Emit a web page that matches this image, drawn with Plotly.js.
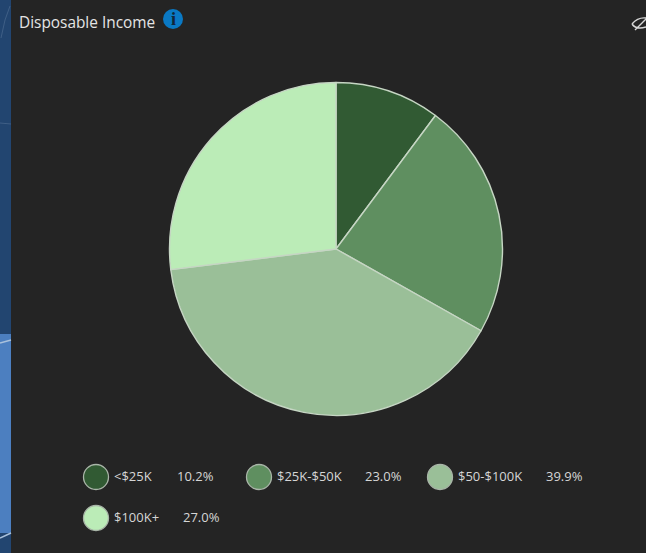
<!DOCTYPE html>
<html>
<head>
<meta charset="utf-8">
<script src="https://cdn.plot.ly/plotly-3.0.1.min.js"></script>
<style>html,body{margin:0;padding:0;background:#242424}#chart{width:646px;height:553px}</style>
</head>
<body>
<div id="chart"></div>
<script>
// Income bands and their share of households
const categories = ['<$25K', '$25K-$50K', '$50-$100K', '$100K+'];
const shares = [10.2, 23.0, 39.9, 27.0];
const sliceColors = ['#315a33', '#5f8f60', '#9abf98', '#bbecb7'];

const W = 646, H = 553;
const px = x => x / W;
const py = y => 1 - y / H;

// Legend layout: swatch centre, label start, percentage start
const legendRows = [
  {cx: 96, cy: 477, lx: 112, vx: 175},
  {cx: 259, cy: 477, lx: 275, vx: 363},
  {cx: 440, cy: 477, lx: 456, vx: 544},
  {cx: 96, cy: 518, lx: 112, vx: 181}
];

const textFont = {family: '"Open Sans", "Noto Sans", sans-serif', size: 13, color: '#d6d6d6'};

const shapes = [
  // map visible behind the panel's left edge
  {type: 'rect', xref: 'paper', yref: 'paper', x0: 0, x1: px(11), y0: 1, y1: 0, fillcolor: '#224570', line: {width: 0}, layer: 'below'},
  {type: 'rect', xref: 'paper', yref: 'paper', x0: 0, x1: px(11), y0: py(334), y1: py(533), fillcolor: '#4c7fc0', line: {width: 0}, layer: 'below'},
  {type: 'path', xref: 'paper', yref: 'paper', path: `M 0 ${py(343)} L ${px(11)} ${py(340)}`, line: {color: '#a9c1dc', width: 1.5}, layer: 'below'},
  {type: 'path', xref: 'paper', yref: 'paper', path: `M 0 ${py(538)} L ${px(11)} ${py(533)}`, line: {color: '#a9c1dc', width: 1.5}, layer: 'below'},
  {type: 'path', xref: 'paper', yref: 'paper', path: `M 0 ${py(123)} L ${px(11)} ${py(124)}`, line: {color: '#3f5f86', width: 1}, layer: 'below'},
  {type: 'path', xref: 'paper', yref: 'paper', path: `M ${px(1)} ${py(38)} L ${px(5)} ${py(20)} L ${px(10)} ${py(6)}`, line: {color: '#3f5f86', width: 1}, layer: 'below'},
  // info badge
  {type: 'circle', xref: 'paper', yref: 'paper', x0: px(163), x1: px(183), y0: py(9), y1: py(29), fillcolor: '#0a79c4', line: {width: 0}},
  // hidden-layer eye, top right
  {type: 'path', xref: 'paper', yref: 'paper',
    path: `M ${px(632)} ${py(24)} Q ${px(638)} ${py(17)} ${px(646)} ${py(18)} M ${px(632)} ${py(24)} Q ${px(636)} ${py(30)} ${px(646)} ${py(27)} M ${px(635)} ${py(30)} L ${px(646)} ${py(19)}`,
    line: {color: '#d8d8d8', width: 1.4}}
];

const annotations = [
  {text: 'Disposable Income', x: px(17), y: py(23), xref: 'paper', yref: 'paper', xanchor: 'left', yanchor: 'middle', showarrow: false,
    font: {family: textFont.family, size: 15.4, color: '#e4e4e4'}},
  {text: '<b>i</b>', x: px(173), y: py(19), xref: 'paper', yref: 'paper', xanchor: 'center', yanchor: 'middle', showarrow: false,
    font: {family: '"Liberation Serif", serif', size: 18, color: '#10263a'}}
];

categories.forEach((name, i) => {
  const r = legendRows[i];
  shapes.push({type: 'circle', xref: 'paper', yref: 'paper',
    x0: px(r.cx - 12.5), x1: px(r.cx + 12.5), y0: py(r.cy - 12.5), y1: py(r.cy + 12.5),
    fillcolor: sliceColors[i], line: {color: '#a9b5a8', width: 1.3}});
  annotations.push({text: name.replace('<', '&lt;'), x: px(r.lx), y: py(r.cy - 1), xref: 'paper', yref: 'paper', xanchor: 'left', yanchor: 'middle', showarrow: false, font: textFont});
  annotations.push({text: shares[i].toFixed(1) + '%', x: px(r.vx), y: py(r.cy - 1), xref: 'paper', yref: 'paper', xanchor: 'left', yanchor: 'middle', showarrow: false, font: textFont});
});

const trace = {
  type: 'pie',
  labels: categories,
  values: shares,
  sort: false,
  direction: 'clockwise',
  rotation: 0,
  textinfo: 'none',
  hoverinfo: 'label+percent',
  marker: {colors: sliceColors, line: {color: '#c6d6c4', width: 1.4}},
  domain: {x: [px(336 - 166.5), px(336 + 166.5)], y: [py(249 + 166.5), py(249 - 166.5)]}
};

Plotly.newPlot('chart', [trace], {
  width: W,
  height: H,
  margin: {l: 0, r: 0, t: 0, b: 0},
  paper_bgcolor: '#242424',
  showlegend: false,
  shapes,
  annotations
}, {displayModeBar: false});
</script>
</body>
</html>
